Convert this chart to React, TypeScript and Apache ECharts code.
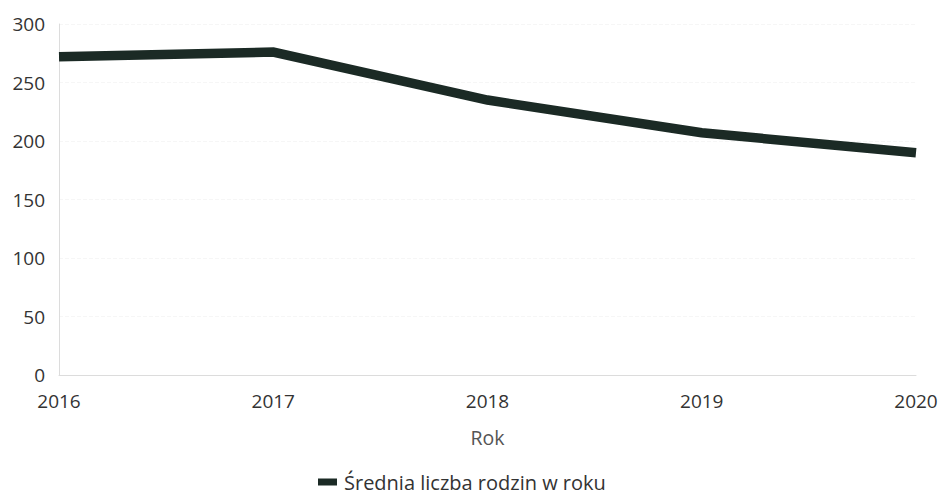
import React, { useEffect, useRef } from "react";
import * as echarts from "echarts";

const years = ["2016", "2017", "2018", "2019", "2020"];
const avgFamilies = [272, 276, 235, 207, 190];
const seriesName = "Średnia liczba rodzin w roku";

export default function App() {
  const ref = useRef<HTMLDivElement>(null);
  useEffect(() => {
    if (!ref.current) return;
    const chart = echarts.init(ref.current, undefined, { renderer: "svg" });
    const font = "'Open Sans', Lato, sans-serif";
    chart.setOption({
      animation: false,
      backgroundColor: "#ffffff",
      grid: { left: 59, right: 25, top: 24, bottom: 119, containLabel: false },
      legend: {
        data: [{ name: seriesName, icon: "rect" }],
        top: 472,
        left: 318,
        padding: 0,
        itemWidth: 19,
        itemHeight: 7,
        itemGap: 6,
        textStyle: { fontFamily: font, fontSize: 20, lineHeight: 20, color: "#333", padding: [0, 0, 0, 2] },
      },
      xAxis: {
        type: "category",
        data: years,
        boundaryGap: false,
        name: "Rok",
        nameLocation: "middle",
        nameGap: 52,
        nameTextStyle: { fontFamily: font, fontSize: 19.5, color: "#555" },
        axisLine: { lineStyle: { color: "#dcdcdc", width: 1 } },
        axisTick: { show: false },
        axisLabel: { fontFamily: font, fontSize: 19, color: "#333", margin: 16 },
        splitLine: { show: false },
      },
      yAxis: {
        type: "value",
        min: 0,
        max: 300,
        interval: 50,
        axisLine: { show: true, lineStyle: { color: "#dcdcdc", width: 1 } },
        axisTick: { show: false },
        axisLabel: { fontFamily: font, fontSize: 19, color: "#333", margin: 14 },
        splitLine: { show: true, lineStyle: { color: "#f6f6f6", type: "dashed" } },
      },
      series: [
        {
          name: seriesName,
          type: "line",
          data: avgFamilies,
          symbol: "none",
          lineStyle: { color: "#1b2a25", width: 9.5, join: "miter" },
          itemStyle: { color: "#1b2a25" },
        },
      ],
    });
    return () => chart.dispose();
  }, []);
  return (
    <div
      ref={ref}
      style={{ position: "fixed", left: 0, top: 0, width: 941, height: 494 }}
    />
  );
}
